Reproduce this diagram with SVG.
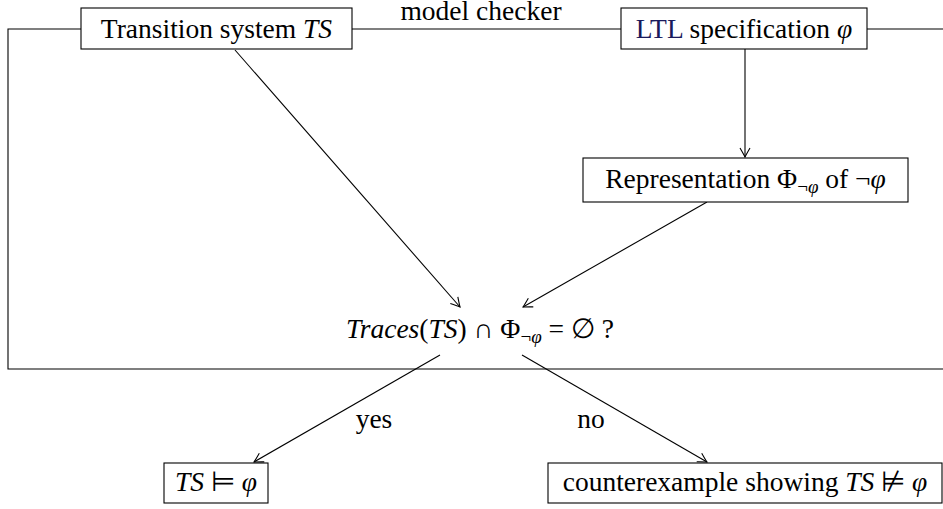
<svg xmlns="http://www.w3.org/2000/svg" width="943" height="509" viewBox="0 0 943 509">
<style>
text{font-family:'Liberation Serif','Times New Roman',serif;font-size:27.5px;fill:#000;text-anchor:middle}
.i{font-style:italic}
.box{fill:#fff;stroke:#000;stroke-width:1.1}
.ln{fill:none;stroke:#000;stroke-width:1.1}
.sub{font-size:19px}
</style>
<defs>
<marker id="ah" markerWidth="14" markerHeight="12" refX="0" refY="0" viewBox="-10 -6 12 12" orient="auto" markerUnits="userSpaceOnUse">
<path d="M-9,-5 Q-3,-1.5 0,0 Q-3,1.5 -9,5" fill="none" stroke="#000" stroke-width="1.1"/>
</marker>
</defs>
<g id="connectors">
<polyline class="ln" points="81,29 8,29 8,369 943,369"/>
<line class="ln" x1="352" y1="29" x2="621" y2="29"/>
<line class="ln" x1="867" y1="29" x2="943" y2="29"/>
<line class="ln" x1="745" y1="49" x2="745" y2="157" marker-end="url(#ah)"/>
<line class="ln" x1="235" y1="50" x2="460" y2="307" marker-end="url(#ah)"/>
<line class="ln" x1="707" y1="202" x2="523" y2="307" marker-end="url(#ah)"/>
<line class="ln" x1="440" y1="355" x2="254" y2="462" marker-end="url(#ah)"/>
<line class="ln" x1="522" y1="355" x2="707" y2="462" marker-end="url(#ah)"/>
<text x="481" y="19.5">model checker</text>
<text x="374" y="428">yes</text>
<text x="591" y="428">no</text>
</g>
<g id="ts">
<rect class="box" x="81" y="8" width="271" height="41"/>
<text x="216.5" y="37.5">Transition system <tspan class="i">TS</tspan></text>
</g>
<g id="ltl">
<rect class="box" x="621" y="8" width="246" height="41"/>
<text x="744" y="37.5"><tspan fill="#1a1a5c">LTL</tspan> specification <tspan class="i">φ</tspan></text>
</g>
<g id="repr">
<rect class="box" x="583" y="158" width="325" height="44"/>
<text x="745.5" y="188">Representation Φ<tspan class="sub" dy="5">¬<tspan class="i">φ</tspan></tspan><tspan dy="-5"> of ¬</tspan><tspan class="i">φ</tspan></text>
</g>
<g id="check">
<text x="480" y="338"><tspan class="i">Traces</tspan>(<tspan class="i">TS</tspan>) ∩ Φ<tspan class="sub" dy="5">¬<tspan class="i">φ</tspan></tspan><tspan dy="-5"> = ∅ ?</tspan></text>
</g>
<g id="yes">
<rect class="box" x="164" y="463" width="104" height="40"/>
<text x="216" y="491"><tspan class="i">TS</tspan> ⊨ <tspan class="i">φ</tspan></text>
</g>
<g id="no">
<rect class="box" x="548" y="463" width="394" height="40"/>
<text x="745" y="491">counterexample showing <tspan class="i">TS</tspan> ⊭ <tspan class="i">φ</tspan></text>
</g>
</svg>
